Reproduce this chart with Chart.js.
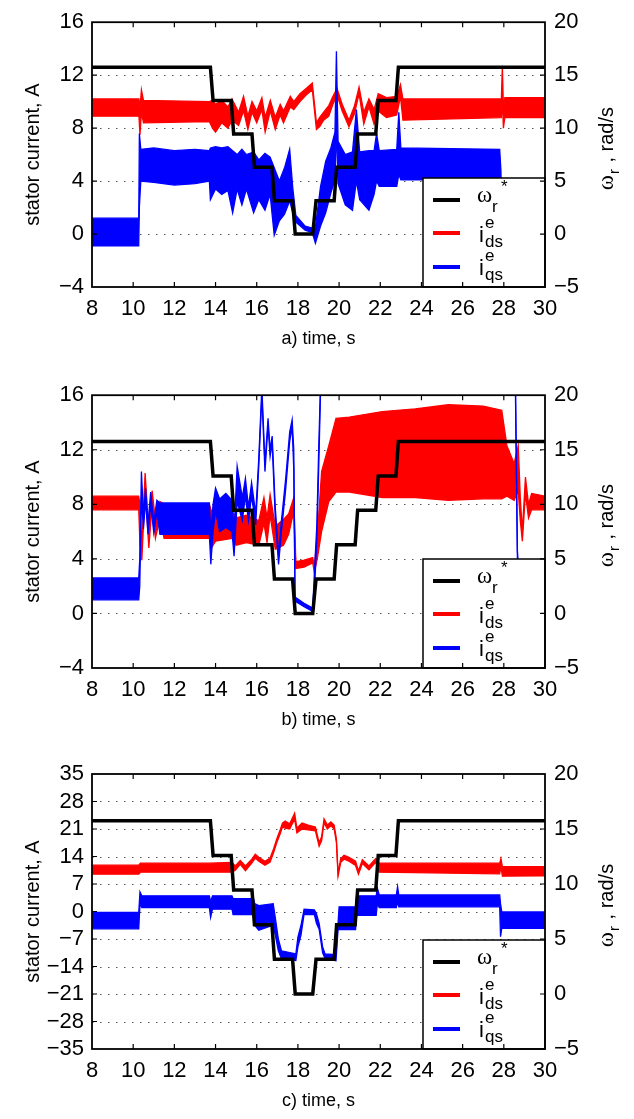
<!DOCTYPE html>
<html>
<head>
<meta charset="utf-8">
<script src="https://cdn.jsdelivr.net/npm/chart.js@4.4.1/dist/chart.umd.min.js"></script>
<style>
  body { margin: 0; background: #fff; width: 634px; height: 1119px; overflow: hidden; }
  canvas { position: absolute; left: 0; }
</style>
</head>
<body>
<canvas id="c1" width="634" height="373" style="top:0"></canvas>
<canvas id="c2" width="634" height="373" style="top:373px"></canvas>
<canvas id="c3" width="634" height="373" style="top:746px"></canvas>
<script>
// tick values
const timeTicks = [8, 10, 12, 14, 16, 18, 20, 22, 24, 26, 28, 30];
const currTicksAB = [-4, 0, 4, 8, 12, 16];
const currTicksC = [-35, -28, -21, -14, -7, 0, 7, 14, 21, 28, 35];
const speedTicks = [-5, 0, 5, 10, 15, 20];

// speed reference, rad/s (same in all three runs)
const wT = [8, 13.75, 13.88, 14.76, 14.88, 15.77, 15.89, 16.74, 16.86, 17.74, 17.87, 18.72, 18.88, 19.76, 19.88, 20.78, 20.9, 21.78, 21.9, 22.76, 22.88, 30];
const wRef = [15.75, 15.75, 12.6, 12.6, 9.45, 9.45, 6.3, 6.3, 3.15, 3.15, 0, 0, 3.15, 3.15, 6.3, 6.3, 9.45, 9.45, 12.6, 12.6, 15.75, 15.75];

// a) i_ds (band: low / high edge of the ripple)
const aIdsT  = [8, 10.28, 10.33, 10.4, 10.5, 13.7, 13.85, 14.0, 14.3, 14.6, 14.8, 15.12, 15.36, 15.57, 15.77, 16.0, 16.25, 16.41, 16.66, 16.9, 17.14, 17.3, 17.63, 17.8, 18.1, 18.4, 18.7, 18.9, 19.05, 19.25, 19.5, 19.7, 19.9, 20.15, 20.48, 20.75, 20.97, 21.2, 21.45, 21.7, 21.9, 22.3, 22.8, 22.98, 23.1, 27.88, 27.93, 27.98, 28.05, 30];
const aIdsLo = [8.9, 8.9, 7.5, 9.2, 8.4, 8.5, 8.0, 7.7, 8.4, 8.0, 8.6, 8.2, 9.3, 7.9, 9.2, 8.4, 9.4, 7.7, 9.3, 7.9, 9.0, 8.4, 9.6, 9.4, 10.0, 10.5, 10.9, 7.9, 8.1, 8.6, 8.9, 9.8, 10.5, 9.3, 8.1, 9.1, 10.6, 8.3, 9.6, 8.3, 9.3, 8.8, 9.0, 10.4, 8.6, 8.8, 10.2, 8.0, 8.8, 8.8];
const aIdsHi = [10.2, 10.2, 9.5, 10.9, 10.1, 10.0, 10.1, 9.8, 10.1, 9.6, 10.2, 9.2, 10.4, 8.9, 10.0, 9.3, 10.3, 8.8, 10.1, 8.8, 9.8, 9.3, 10.4, 10.0, 10.6, 11.0, 11.4, 8.4, 8.8, 9.2, 9.7, 10.4, 11.0, 9.8, 8.6, 9.7, 11.1, 9.2, 10.2, 9.4, 10.6, 10.3, 10.4, 11.3, 10.2, 10.2, 12.7, 9.5, 10.3, 10.3];

// a) i_qs
const aIqsT  = [8, 10.27, 10.3, 10.37, 11.0, 12.0, 13.0, 13.7, 13.75, 14.0, 14.3, 14.6, 14.83, 15.05, 15.28, 15.5, 15.85, 16.1, 16.4, 16.65, 16.85, 17.1, 17.35, 17.6, 17.75, 17.9, 18.35, 18.7, 18.85, 19.1, 19.35, 19.6, 19.8, 19.87, 19.95, 20.3, 20.65, 20.84, 21.0, 21.45, 21.7, 21.82, 21.95, 22.8, 22.9, 23.0, 27.8, 27.86, 27.9, 30];
const aIqsLo = [-0.9, -0.9, 2.0, 4.0, 3.9, 3.7, 3.8, 4.0, 2.6, 3.4, 3.0, 3.3, 1.6, 3.4, 2.2, 3.4, 1.6, 2.6, 1.8, 3.0, -0.1, 1.0, 1.5, 2.5, 1.6, 0.9, 0.3, 0.1, -0.7, 0.6, 1.6, 3.1, 4.1, 8.0, 3.8, 2.2, 1.8, 4.0, 2.6, 1.8, 3.0, 4.0, 3.6, 3.6, 4.5, 4.1, 4.1, 0.5, -0.9, -0.9];
const aIqsHi = [1.2, 1.2, 7.6, 6.4, 6.5, 6.3, 6.4, 6.3, 6.5, 6.6, 6.5, 6.6, 6.3, 6.0, 6.4, 6.0, 6.2, 5.6, 6.1, 5.8, 5.0, 4.0, 5.0, 6.4, 3.5, 1.4, 0.6, 0.45, 0.5, 3.6, 5.5, 6.5, 7.7, 13.8, 7.0, 6.0, 6.2, 9.4, 6.2, 6.3, 6.3, 7.6, 6.3, 6.4, 9.2, 6.5, 6.4, 4.8, 1.2, 1.2];

// b) i_ds
const bIdsT  = [8, 10.27, 10.33, 10.42, 10.58, 10.76, 10.92, 11.08, 11.3, 11.5, 13.7, 13.8, 14.0, 14.8, 15.0, 15.5, 16.1, 16.35, 16.5, 16.65, 16.9, 17.3, 17.55, 17.8, 17.9, 18.3, 18.72, 18.8, 18.95, 19.15, 19.5, 19.85, 20.5, 22.1, 23.7, 25.3, 27.0, 27.9, 28.15, 28.5, 28.7, 28.8, 28.9, 29.05, 29.2, 29.35, 30];
const bIdsLo = [7.6, 7.6, 5.0, 3.9, 9.2, 4.8, 8.0, 5.5, 7.0, 5.5, 5.5, 4.8, 5.3, 5.5, 5.0, 5.2, 5.0, 6.6, 5.2, 7.2, 4.7, 5.0, 5.8, 7.5, 3.3, 3.4, 3.7, 3.0, 4.1, 6.0, 8.2, 8.9, 8.9, 8.5, 8.5, 8.3, 8.4, 8.4, 8.6, 8.3, 9.0, 6.8, 5.3, 8.8, 7.0, 7.6, 7.6];
const bIdsHi = [8.6, 8.6, 8.0, 5.0, 10.3, 6.0, 9.0, 6.8, 8.2, 8.0, 8.0, 7.5, 7.6, 7.5, 7.0, 7.2, 6.8, 8.5, 7.0, 8.7, 6.4, 6.9, 7.3, 8.5, 3.8, 3.9, 4.1, 3.5, 5.8, 10.4, 12.3, 14.3, 14.4, 14.8, 15.0, 15.3, 15.2, 14.9, 12.3, 11.0, 12.3, 8.5, 6.0, 10.0, 8.0, 8.8, 8.6];

// b) i_qs (runs off the top of the axis between 19.1 s and 28.6 s)
const bIqsT  = [8, 10.27, 10.32, 10.4, 10.5, 10.6, 10.72, 10.85, 11.0, 11.15, 11.3, 13.7, 13.77, 13.88, 14.0, 14.2, 14.5, 14.8, 14.9, 15.05, 15.3, 15.45, 15.6, 15.75, 15.95, 16.1, 16.25, 16.4, 16.55, 16.65, 16.75, 16.9, 17.06, 17.2, 17.4, 17.6, 17.72, 17.8, 17.86, 18.3, 18.72, 18.8, 18.92, 19.0, 19.1, 19.2, 28.55, 28.66, 28.75, 30];
const bIqsLo = [1.0, 1.0, 2.0, 8.5, 6.2, 8.3, 5.8, 8.0, 5.9, 7.4, 5.8, 5.8, 3.6, 6.0, 7.5, 6.0, 6.3, 6.0, 4.2, 8.2, 6.8, 8.6, 6.8, 8.6, 6.5, 10.8, 16.0, 10.4, 13.8, 11.5, 12.5, 7.0, 3.6, 6.0, 9.0, 12.6, 13.7, 10.5, 0.9, 0.5, 0.15, 1.5, 5.5, 10.0, 16.3, 18.0, 18.0, 4.0, 1.5, 1.5];
const bIqsHi = [2.6, 2.6, 4.0, 10.4, 7.2, 9.2, 6.6, 8.9, 6.7, 8.3, 8.1, 8.1, 6.0, 8.0, 9.2, 8.4, 8.8, 8.3, 6.0, 10.8, 8.5, 9.9, 7.8, 9.6, 7.3, 11.4, 16.6, 11.0, 14.3, 12.0, 13.0, 7.8, 4.4, 6.8, 9.8, 13.3, 14.2, 12.0, 1.2, 0.75, 0.4, 3.0, 6.5, 11.5, 17.0, 19.0, 19.0, 4.6, 2.5, 2.5];

// c) i_ds
const cIdsT  = [8, 10.27, 10.35, 13.7, 14.8, 14.96, 15.2, 15.45, 15.77, 15.93, 16.1, 16.4, 16.65, 16.82, 16.98, 17.14, 17.25, 17.38, 17.6, 17.84, 17.95, 18.2, 18.5, 18.85, 19.03, 19.15, 19.27, 19.43, 19.6, 19.76, 19.87, 19.95, 20.08, 20.24, 20.48, 20.8, 20.94, 21.13, 21.45, 21.78, 21.95, 27.8, 27.86, 27.93, 30];
const cIdsLo = [9.5, 9.5, 10.0, 10.0, 10.0, 10.5, 12.0, 10.4, 12.4, 13.6, 12.8, 11.8, 12.6, 15.0, 17.6, 19.8, 21.5, 21.2, 21.0, 23.5, 20.0, 21.0, 20.8, 20.5, 16.6, 18.0, 22.6, 21.0, 21.8, 21.0, 17.5, 9.0, 12.5, 13.3, 12.8, 11.7, 9.5, 12.2, 10.6, 12.5, 10.0, 9.6, 11.5, 9.0, 9.1];
const cIdsHi = [11.8, 11.8, 12.3, 12.3, 12.5, 11.6, 13.0, 11.6, 13.4, 14.6, 13.8, 12.8, 13.6, 16.0, 18.6, 20.8, 22.5, 23.0, 22.3, 25.0, 21.2, 22.5, 22.0, 21.5, 17.5, 19.0, 23.6, 22.0, 22.8, 22.0, 18.5, 9.8, 13.5, 14.3, 13.8, 12.8, 10.3, 13.2, 11.6, 13.5, 12.3, 12.3, 13.5, 11.4, 11.4];

// c) i_qs
const cIqsT  = [8, 10.27, 10.33, 10.42, 13.7, 13.76, 13.85, 14.8, 14.85, 15.85, 15.9, 16.1, 16.8, 16.9, 17.05, 17.2, 17.9, 18.0, 18.15, 18.3, 18.8, 18.9, 19.03, 19.2, 19.32, 19.85, 19.95, 20.0, 20.8, 20.85, 21.8, 21.86, 21.95, 22.78, 22.84, 22.9, 27.8, 27.84, 27.9, 30];
const cIqsLo = [-4.4, -4.4, 2.0, 1.0, 1.0, -1.5, 0.6, 0.6, -0.8, -0.8, -3.5, -4.8, -3.5, -6.0, -10.0, -12.0, -12.5, -9.0, -6.0, -0.7, -0.8, -3.0, -4.5, -10.5, -12.0, -12.5, -4.5, -4.6, -4.6, -1.0, -1.0, 2.0, 1.0, 1.0, 2.5, 1.2, 1.2, -6.4, -4.3, -4.3];
const cIqsHi = [-0.2, -0.2, 5.0, 4.0, 4.0, 2.5, 4.0, 4.0, 3.3, 3.3, 2.0, 1.5, 2.0, -1.5, -7.0, -10.0, -10.8, -6.5, -3.5, 0.6, 0.4, -0.6, -3.0, -9.0, -10.8, -11.0, -3.0, 1.2, 1.2, 4.0, 4.0, 5.9, 4.2, 4.2, 6.3, 4.2, 4.2, 2.0, -0.1, -0.1];

const SANS = '"Liberation Sans", Arial, sans-serif';
const SERIF = '"Liberation Serif", "DejaVu Serif", serif';
const RED = '#ff0000', BLUE = '#0000ff';

const minus = v => (v < 0 ? '\u2212' + Math.abs(v) : String(v));

function band(t, lo, hi, color, order) {
  const pts = arr => t.map((x, i) => ({ x: x, y: arr[i] }));
  const base = { borderColor: color, borderWidth: 1.3, pointRadius: 0, tension: 0, clip: 0, order: order, yAxisID: 'y' };
  return [
    Object.assign({ data: pts(lo), fill: false }, base),
    Object.assign({ data: pts(hi), fill: '-1', backgroundColor: color }, base)
  ];
}

// grid, frame, ticks, legend and axis titles in the MATLAB look
const decor = {
  id: 'decor',
  beforeDatasetsDraw(chart) {
    const { ctx, chartArea: a, scales } = chart;
    const y = scales.y;
    ctx.save();
    ctx.strokeStyle = '#555';
    ctx.lineWidth = 1;
    ctx.setLineDash([1.5, 6.5]);
    y.ticks.forEach(tk => {
      if (tk.value <= y.min || tk.value >= y.max) return;
      const py = Math.round(y.getPixelForValue(tk.value)) + 0.5;
      ctx.beginPath();
      ctx.moveTo(a.left, py);
      ctx.lineTo(a.right, py);
      ctx.stroke();
    });
    ctx.restore();
  },
  afterDatasetsDraw(chart, args, opts) {
    const { ctx, chartArea: a, scales } = chart;
    ctx.save();

    // legend box
    const L = a.right - 122, T = a.bottom - 109;
    ctx.fillStyle = '#fff';
    ctx.fillRect(L, T, 122, 109);
    ctx.strokeStyle = '#000';
    ctx.lineWidth = 1.5;
    ctx.strokeRect(L, T, 122, 109);
    [[22, '#000'], [55, RED], [89, BLUE]].forEach(([dy, c]) => {
      ctx.strokeStyle = c;
      ctx.lineWidth = 4;
      ctx.beginPath();
      ctx.moveTo(L + 10, T + dy);
      ctx.lineTo(L + 37, T + dy);
      ctx.stroke();
    });
    ctx.fillStyle = '#000';
    ctx.textAlign = 'left';
    ctx.textBaseline = 'alphabetic';
    ctx.font = '23px ' + SERIF;
    ctx.fillText('\u03c9', L + 54, T + 24);
    ctx.font = '17px ' + SANS;
    ctx.fillText('r', L + 69, T + 34);
    ctx.fillText('*', L + 78, T + 14);
    [[64, 'ds'], [97, 'qs']].forEach(([by, sub]) => {
      ctx.font = '22px ' + SANS;
      ctx.fillText('i', L + 56, T + by);
      ctx.font = '17px ' + SANS;
      ctx.fillText('e', L + 62, T + by - 14);
      ctx.fillText(sub, L + 62, T + by + 5);
    });

    // frame
    ctx.strokeStyle = '#000';
    ctx.lineWidth = 1.8;
    ctx.strokeRect(a.left, a.top, a.width, a.height);

    // inward tick marks
    ctx.lineWidth = 1.2;
    const tl = 5;
    ctx.beginPath();
    scales.x.ticks.forEach(tk => {
      if (tk.value <= scales.x.min || tk.value >= scales.x.max) return;
      const px = scales.x.getPixelForValue(tk.value);
      ctx.moveTo(px, a.bottom); ctx.lineTo(px, a.bottom - tl);
      ctx.moveTo(px, a.top); ctx.lineTo(px, a.top + tl);
    });
    scales.y.ticks.forEach(tk => {
      if (tk.value <= scales.y.min || tk.value >= scales.y.max) return;
      const py = scales.y.getPixelForValue(tk.value);
      ctx.moveTo(a.left, py); ctx.lineTo(a.left + tl, py);
    });
    scales.y2.ticks.forEach(tk => {
      if (tk.value <= scales.y2.min || tk.value >= scales.y2.max) return;
      const py = scales.y2.getPixelForValue(tk.value);
      ctx.moveTo(a.right, py); ctx.lineTo(a.right - tl, py);
    });
    ctx.stroke();

    // axis titles
    const midX = (a.left + a.right) / 2, midY = (a.top + a.bottom) / 2;
    ctx.fillStyle = '#000';
    ctx.font = '18px ' + SANS;
    ctx.textAlign = 'center';
    ctx.textBaseline = 'middle';
    ctx.fillText(opts.letter + ') time, s', midX, a.bottom + 52);

    ctx.save();
    ctx.translate(33, midY);
    ctx.rotate(-Math.PI / 2);
    ctx.font = '20px ' + SANS;
    ctx.fillText('stator current, A', 0, 0);
    ctx.restore();

    ctx.save();
    ctx.translate(606, midY - 6);
    ctx.rotate(-Math.PI / 2);
    ctx.textAlign = 'left';
    ctx.textBaseline = 'alphabetic';
    ctx.font = '23px ' + SERIF;
    const wOm = ctx.measureText('\u03c9').width;
    ctx.font = '15px ' + SANS;
    const wR = ctx.measureText('r').width;
    ctx.font = '20px ' + SANS;
    const rest = ' , rad/s';
    const wRest = ctx.measureText(rest).width;
    const x0 = -(wOm + wR + wRest + 2) / 2;
    const base = 7;
    ctx.font = '23px ' + SERIF;
    ctx.fillText('\u03c9', x0, base);
    ctx.font = '15px ' + SANS;
    ctx.fillText('r', x0 + wOm + 1, base + 6);
    ctx.font = '20px ' + SANS;
    ctx.fillText(rest, x0 + wOm + wR + 2, base);
    ctx.restore();

    ctx.restore();
  }
};

function makeChart(id, letter, top, bottom, ids, iqs, yTicks) {
  const canvasH = 373;
  const tickFont = { family: SANS, size: 22 };
  return new Chart(document.getElementById(id), {
    type: 'line',
    data: {
      datasets: [
        {
          data: wT.map((x, i) => ({ x: x, y: wRef[i] })),
          borderColor: '#000', borderWidth: 3.5, pointRadius: 0, tension: 0,
          fill: false, clip: 0, order: 0, yAxisID: 'y2'
        },
        ...band(ids[0], ids[1], ids[2], RED, 2),
        ...band(iqs[0], iqs[1], iqs[2], BLUE, 1)
      ]
    },
    plugins: [decor],
    options: {
      responsive: false,
      animation: false,
      events: [],
      layout: { padding: { top: top, left: 0, right: 0, bottom: 0 } },
      plugins: {
        legend: { display: false },
        tooltip: { enabled: false },
        decor: { letter: letter }
      },
      scales: {
        x: {
          type: 'linear', position: 'bottom', min: 8, max: 30,
          afterBuildTicks: s => { s.ticks = timeTicks.map(v => ({ value: v })); },
          afterFit: s => { s.height = canvasH - bottom; },
          grid: { display: false, drawTicks: false },
          border: { display: false },
          ticks: { color: '#000', font: tickFont, padding: 9, maxRotation: 0, autoSkip: false }
        },
        y: {
          type: 'linear', position: 'left', min: yTicks[0], max: yTicks[yTicks.length - 1],
          afterBuildTicks: s => { s.ticks = yTicks.map(v => ({ value: v })); },
          afterFit: s => { s.width = 92; },
          grid: { display: false, drawTicks: false },
          border: { display: false },
          ticks: { color: '#000', font: tickFont, padding: 8, callback: minus, autoSkip: false }
        },
        y2: {
          type: 'linear', position: 'right', min: -5, max: 20,
          afterBuildTicks: s => { s.ticks = speedTicks.map(v => ({ value: v })); },
          afterFit: s => { s.width = 634 - 545; },
          grid: { display: false, drawTicks: false },
          border: { display: false },
          ticks: { color: '#000', font: tickFont, padding: 9, callback: minus, autoSkip: false }
        }
      }
    }
  });
}

makeChart('c1', 'a', 13, 287, [aIdsT, aIdsLo, aIdsHi], [aIqsT, aIqsLo, aIqsHi], currTicksAB);
makeChart('c2', 'b', 20, 295, [bIdsT, bIdsLo, bIdsHi], [bIqsT, bIqsLo, bIqsHi], currTicksAB);
makeChart('c3', 'c', 28, 303, [cIdsT, cIdsLo, cIdsHi], [cIqsT, cIqsLo, cIqsHi], currTicksC);
</script>
</body>
</html>
